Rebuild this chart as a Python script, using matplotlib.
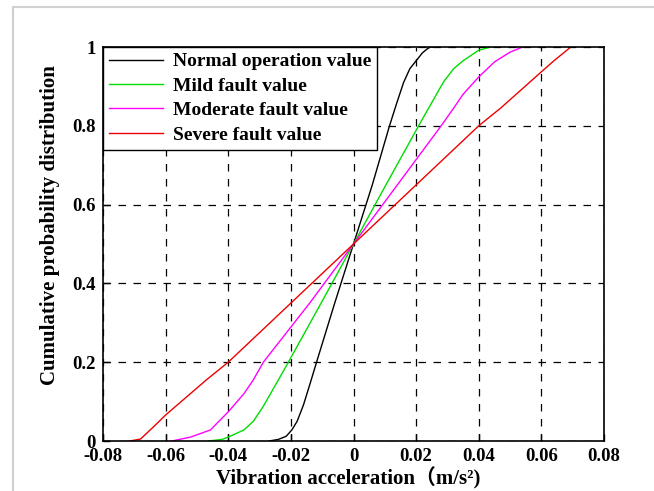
import matplotlib
matplotlib.use("Agg")
import matplotlib.pyplot as plt
from matplotlib.lines import Line2D

# ---- data ----
normal_x = [-0.027, -0.024, -0.0215, -0.0197, -0.018, -0.016, -0.0137, -0.0118, -0.006, 0.0,
            0.006, 0.0115, 0.0137, 0.016, 0.018, 0.020, 0.022, 0.0235, 0.0246, 0.027]
normal_y = [0.0, 0.004, 0.012, 0.028, 0.05, 0.091, 0.150, 0.2, 0.35, 0.5,
            0.65, 0.8, 0.855, 0.91, 0.945, 0.965, 0.985, 0.995, 1.0, 1.0]

mild_x = [-0.0464, -0.042, -0.040, -0.035, -0.032, -0.0288, -0.024, -0.0208, -0.01, 0.0,
          0.01, 0.0208, 0.024, 0.0288, 0.032, 0.035, 0.040, 0.044]
mild_y = [0.0, 0.004, 0.01, 0.028, 0.05, 0.088, 0.155, 0.2, 0.355, 0.5,
          0.645, 0.8, 0.845, 0.912, 0.945, 0.965, 0.992, 1.0]

moderate_x = [-0.058, -0.052, -0.0457, -0.040, -0.035, -0.032, -0.0288, -0.014, 0.0,
              0.014, 0.028, 0.032, 0.035, 0.040, 0.045, 0.050, 0.054]
moderate_y = [0.0, 0.01, 0.028, 0.074, 0.12, 0.155, 0.2, 0.35, 0.5,
              0.65, 0.8, 0.845, 0.88, 0.924, 0.962, 0.987, 1.0]

severe_x = [-0.0715, -0.068, -0.064, -0.060, -0.047, -0.040, -0.020, 0.0,
            0.020, 0.040, 0.047, 0.060, 0.064, 0.0694]
severe_y = [0.0, 0.005, 0.035, 0.066, 0.155, 0.2, 0.35, 0.5,
            0.65, 0.8, 0.845, 0.937, 0.965, 1.0]

series = [
    ("Normal operation value", normal_x, normal_y, "black"),
    ("Mild fault value", mild_x, mild_y, "#00dd00"),
    ("Moderate fault value", moderate_x, moderate_y, "#ff00ff"),
    ("Severe fault value", severe_x, severe_y, "#ee0000"),
]

xticks = [-0.08, -0.06, -0.04, -0.02, 0, 0.02, 0.04, 0.06, 0.08]
xticklabels = ["-0.08", "-0.06", "-0.04", "-0.02", "0", "0.02", "0.04", "0.06", "0.08"]
yticks = [0, 0.2, 0.4, 0.6, 0.8, 1]
yticklabels = ["0", "0.2", "0.4", "0.6", "0.8", "1"]

plt.rcParams['font.family'] = ['Liberation Serif', 'Noto Sans CJK SC', 'DejaVu Sans']

fig = plt.figure(figsize=(6.54, 4.91), dpi=100)
ax = fig.add_axes([103/654, 1-441/491, (604-103)/654, (441-47)/491])

for label, xs, ys, c in series:
    ax.plot(xs, ys, color=c, lw=1.0, label=label)

ax.set_xlim(-0.08, 0.08)
ax.set_ylim(0, 1)
ax.set_xticks(xticks)
ax.set_xticklabels(xticklabels)
ax.set_yticks(yticks)
ax.set_yticklabels(yticklabels)
ax.tick_params(direction='in', length=5, width=1, labelsize=13.5, pad=5)
for t in ax.get_xticklabels() + ax.get_yticklabels():
    t.set_fontweight('bold')
ax.grid(True, color='black', linestyle=(0, (6, 6)), linewidth=0.9)
for s in ax.spines.values():
    s.set_linewidth(1.2)

ax.set_xlabel("Vibration acceleration（m/s²)", fontsize=15, fontweight='bold')
ax.xaxis.set_label_coords(0.489, -0.066)
ax.set_ylabel("Cumulative probability distribution", fontsize=15, fontweight='bold')
ax.yaxis.set_label_coords(-0.086, 0.548)

leg = ax.legend(loc='upper left', borderaxespad=0, fancybox=False, framealpha=1,
                edgecolor='black', handlelength=2.8, prop={'weight': 'bold', 'size': 14},
                borderpad=0.3, labelspacing=0.35, handletextpad=0.5)
leg.get_frame().set_linewidth(1.0)

# light gray frame lines of the picture
fig.add_artist(Line2D([13/654, 1], [1-7/491, 1-7/491], color='#d0d0d0', lw=1.5))
fig.add_artist(Line2D([13/654, 13/654], [0, 1-7/491], color='#d0d0d0', lw=1.5))

fig.savefig("out.png", dpi=100)
